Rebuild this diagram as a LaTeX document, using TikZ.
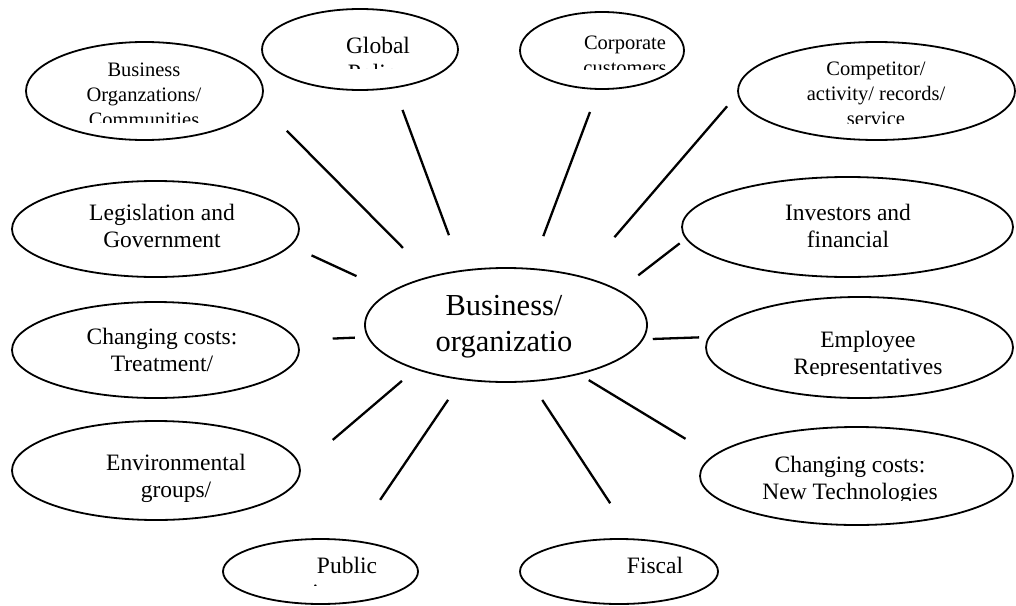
\documentclass[tikz,border=0pt]{standalone}
\usepackage{fontspec}
\setmainfont{Liberation Serif}
\usetikzlibrary{shapes.geometric}

\tikzset{
  bubble/.style={draw, ellipse, line width=1.8pt, inner sep=0pt, outer sep=0pt},
  spoke/.style={line width=2.3pt},
  lbl/.style={align=center, anchor=base, inner sep=0pt, font=\fontsize{23.5}{27}\selectfont},
  smalllbl/.style={lbl, font=\fontsize{20.5}{25}\selectfont},
  biglbl/.style={lbl, font=\fontsize{30.5}{36}\selectfont},
}

\begin{document}
\begin{tikzpicture}[x=1pt,y=-1pt]
\useasboundingbox (0,0) rectangle (1016,605);

% bubbles
\node[bubble, minimum width=282, minimum height=114] (biz) at (506,325) {};
\node[bubble, minimum width=237, minimum height=98] (borg) at (144.5,91) {};
\node[bubble, minimum width=196, minimum height=81] (glob) at (360,49.5) {};
\node[bubble, minimum width=164, minimum height=77] (corp) at (602,50.5) {};
\node[bubble, minimum width=277, minimum height=98] (comp) at (876.5,91) {};
\node[bubble, minimum width=287, minimum height=96] (legis) at (155.5,229) {};
\node[bubble, minimum width=331, minimum height=100] (inv) at (847.5,227) {};
\node[bubble, minimum width=287, minimum height=96] (treat) at (155.5,350) {};
\node[bubble, minimum width=307, minimum height=101] (empl) at (859.5,347.5) {};
\node[bubble, minimum width=288, minimum height=99] (env) at (156,470.5) {};
\node[bubble, minimum width=313, minimum height=98] (tech) at (856.5,476) {};
\node[bubble, minimum width=195, minimum height=65] (pub) at (320.5,571.5) {};
\node[bubble, minimum width=198, minimum height=65] (fisc) at (619,571.5) {};

% texts (placed at the baseline of their last line)
\node[biglbl] (biz-t) at (504,351.5) {Business/\\organizatio};
\node[lbl] (legis-t) at (162,247) {Legislation and\\Government};
\node[lbl] (inv-t) at (848,247) {Investors and\\financial};
\node[lbl] (treat-t) at (162,371) {Changing costs:\\Treatment/};
\node[lbl] (env-t) at (176,497) {Environmental\\groups/};
\node[lbl] (fisc-t) at (655,573) {Fiscal};

% texts cut off at the bottom of their boxes
\begin{scope}
\clip (0,0) rectangle (300,122);
\node[smalllbl] (borg-t) at (144,126) {Business\\Organzations/\\Communities};
\end{scope}
\begin{scope}
\clip (260,0) rectangle (460,68);
\node[lbl] (glob-t) at (378,80) {Global\\Policy};
\end{scope}
\begin{scope}
\clip (520,0) rectangle (690,69);
\node[smalllbl] (corp-t) at (625,74) {Corporate\\customers};
\end{scope}
\begin{scope}
\clip (740,0) rectangle (1016,123);
\node[smalllbl] (comp-t) at (876,125) {Competitor/\\activity/ records/\\service};
\end{scope}
\begin{scope}
\clip (706,300) rectangle (1016,375);
\node[lbl] (empl-t) at (868,374) {Employee\\Representatives};
\end{scope}
\begin{scope}
\clip (700,430) rectangle (1016,500);
\node[lbl] (tech-t) at (850,499) {Changing costs:\\New Technologies};
\end{scope}
\begin{scope}
\clip (222,540) rectangle (420,585);
\node[lbl] (pub-t) at (347,600) {Public\\interest};
\end{scope}

% spokes, loose at both ends
\foreach \from/\fa/\fs/\to/\ta/\ts in {
  borg/354.5/39/biz/147.6/40.5,
  glob/312.5/24/biz/129/38,
  corp/265.1/24.6/biz/66.4/35,
  comp/181/17/biz/33.3/52,
  legis/353.3/23.5/biz/164.3/38,
  inv/184.3/8.3/biz/17.7/25,
  treat/4.5/36.8/biz/185.8/13.3,
  biz/354.2/10.3/empl/176.8/10.2,
  env/1/43.3/biz/206.1/18.5,
  biz/326.7/12/tech/172.9/33,
  biz/231.8/25/pub/44.4/49.5,
  biz/293.8/22.5/fisc/65.6/43.3}
  \draw[spoke, shorten <=\fs pt, shorten >=\ts pt] (\from.\fa) -- (\to.\ta);

\end{tikzpicture}
\end{document}
